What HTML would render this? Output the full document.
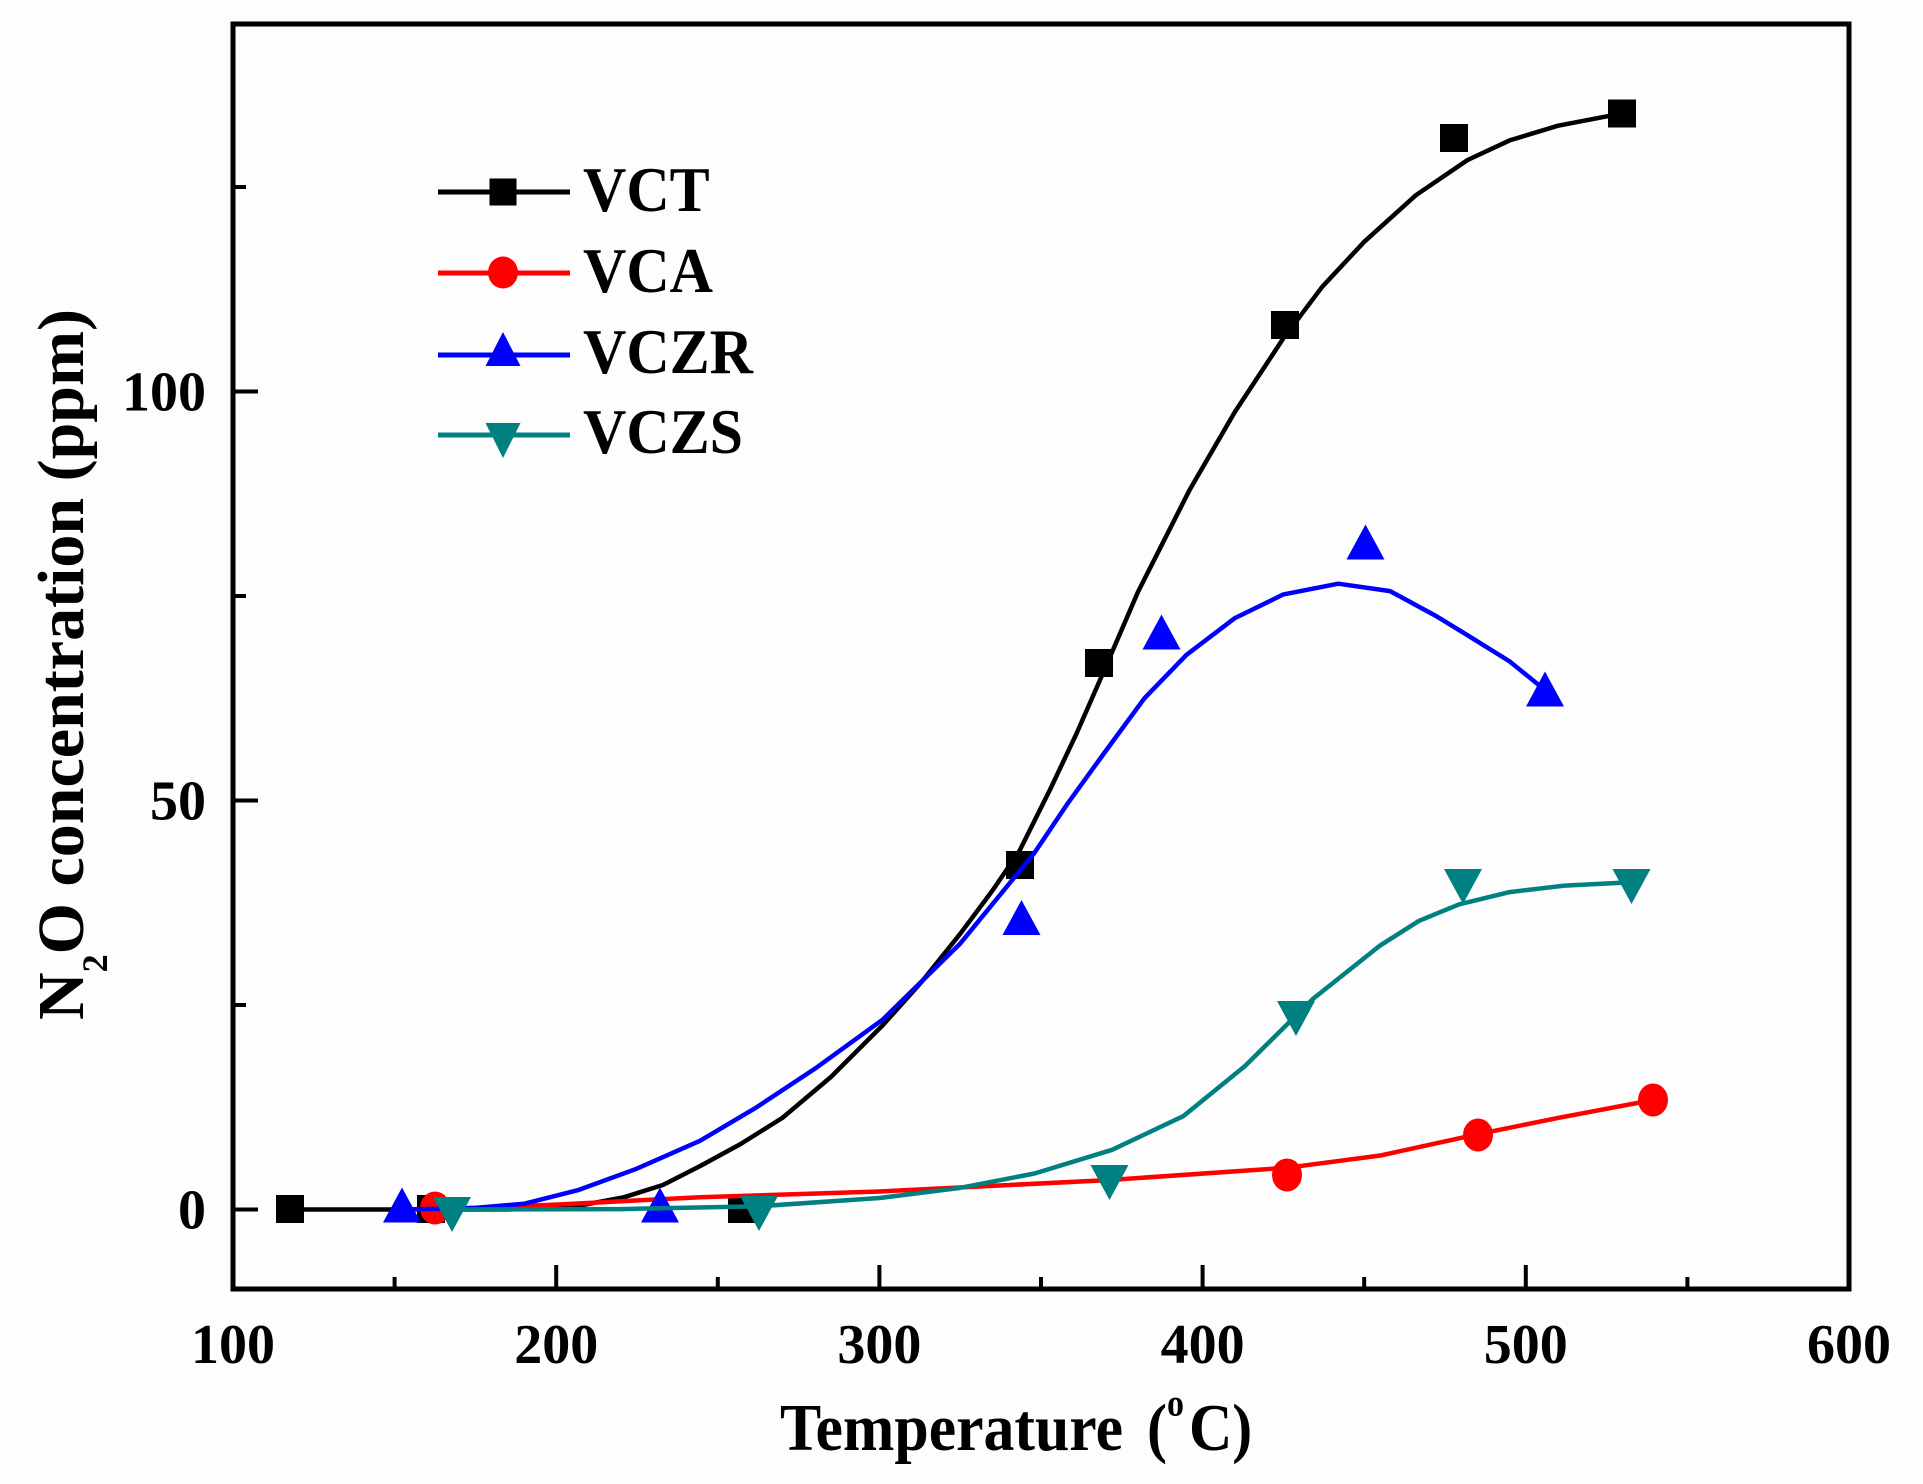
<!DOCTYPE html>
<html>
<head>
<meta charset="utf-8">
<style>
  html,body{margin:0;padding:0;background:#fdfdfd;}
  svg{display:block;}
  text{font-family:"Liberation Serif","Times New Roman",serif;font-weight:bold;fill:#000;}
</style>
</head>
<body>
<svg width="1923" height="1484" viewBox="0 0 1923 1484" xmlns="http://www.w3.org/2000/svg">
  <rect x="0" y="0" width="1923" height="1484" fill="#fdfdfd"/>

  <!-- axes box -->
  <rect x="233" y="24" width="1616" height="1265" fill="none" stroke="#000" stroke-width="5"/>

  <!-- x ticks -->
  <g stroke="#000" stroke-width="4">
    <line x1="556.2" y1="1289" x2="556.2" y2="1265"/>
    <line x1="879.4" y1="1289" x2="879.4" y2="1265"/>
    <line x1="1202.6" y1="1289" x2="1202.6" y2="1265"/>
    <line x1="1525.8" y1="1289" x2="1525.8" y2="1265"/>
    <line x1="394.6" y1="1289" x2="394.6" y2="1277"/>
    <line x1="717.8" y1="1289" x2="717.8" y2="1277"/>
    <line x1="1041" y1="1289" x2="1041" y2="1277"/>
    <line x1="1364.2" y1="1289" x2="1364.2" y2="1277"/>
    <line x1="1687.4" y1="1289" x2="1687.4" y2="1277"/>
    <!-- y ticks -->
    <line x1="233" y1="1209.5" x2="258" y2="1209.5"/>
    <line x1="233" y1="800.5" x2="258" y2="800.5"/>
    <line x1="233" y1="391.5" x2="258" y2="391.5"/>
    <line x1="233" y1="1005" x2="246" y2="1005"/>
    <line x1="233" y1="596" x2="246" y2="596"/>
    <line x1="233" y1="187" x2="246" y2="187"/>
  </g>

  <!-- tick labels -->
  <g font-size="56">
    <text x="233" y="1363" text-anchor="middle">100</text>
    <text x="556.2" y="1363" text-anchor="middle">200</text>
    <text x="879.4" y="1363" text-anchor="middle">300</text>
    <text x="1202.6" y="1363" text-anchor="middle">400</text>
    <text x="1525.8" y="1363" text-anchor="middle">500</text>
    <text x="1849" y="1363" text-anchor="middle">600</text>
    <text x="206" y="1228.5" text-anchor="end">0</text>
    <text x="206" y="819.5" text-anchor="end">50</text>
    <text x="206" y="410.5" text-anchor="end">100</text>
  </g>

  <!-- x title -->
  <g transform="translate(0,1450) scale(1,1.12)">
    <text x="780" y="0" font-size="60" textLength="343" lengthAdjust="spacingAndGlyphs">Temperature</text>
    <text x="1147" y="0" font-size="60">(</text>
    <text x="1167" y="-31" font-size="34">o</text>
    <text x="1189" y="0" font-size="60">C)</text>
  </g>

  <!-- y title -->
  <g transform="translate(83,1020) rotate(-90)">
    <text x="0" y="0" font-size="66">N<tspan font-size="36" dy="24">2</tspan><tspan dy="-24">O concentration (ppm)</tspan></text>
  </g>

  <!-- VCT black -->
  <polyline fill="none" stroke="#000" stroke-width="4.5" stroke-linejoin="round" stroke-linecap="round"
    points="289.9,1209.5 426.9,1209.5 507.7,1209.5 572.4,1207.0 624.1,1197.2 662.9,1185.0 700,1166.1 740.4,1144.1 782.4,1117.9 830.9,1077.0 882.6,1025.4 921.4,982.1 960.2,933.8 992.5,890.5 1019.3,851.2 1050.7,788.2 1076.6,733.4 1099.2,681.9 1138,591.9 1189.7,489.7 1234.9,411.9 1283.4,338.3 1322.2,286.8 1364.2,241.8 1415.9,195.2 1467.6,160.0 1509.6,140.4 1558.1,125.7 1622.1,113.4"/>
  <g fill="#000">
    <rect x="276" y="1195" width="28" height="28"/>
    <rect x="417" y="1195" width="28" height="28"/>
    <rect x="728" y="1195" width="28" height="28"/>
    <rect x="1006" y="851" width="28" height="28"/>
    <rect x="1085" y="649" width="28" height="28"/>
    <rect x="1271" y="311" width="28" height="28"/>
    <rect x="1440" y="124" width="28" height="28"/>
    <rect x="1608" y="99.5" width="28" height="28"/>
  </g>

  <!-- VCA red -->
  <polyline fill="none" stroke="#ff0000" stroke-width="4.5" stroke-linejoin="round" stroke-linecap="round"
    points="435,1209.5 556.2,1204.6 700,1197.2 879.4,1191.5 1107.9,1180.1 1286.6,1167.8 1380.4,1155.5 1478,1134.2 1558.1,1117.9 1653,1100"/>
  <g fill="#ff0000">
    <ellipse cx="435" cy="1208" rx="15" ry="16.5"/>
    <ellipse cx="1287" cy="1175" rx="15" ry="16.5"/>
    <ellipse cx="1478" cy="1135" rx="15" ry="16.5"/>
    <ellipse cx="1653" cy="1100" rx="15" ry="16.5"/>
  </g>

  <!-- VCZR blue -->
  <polyline fill="none" stroke="#0000ff" stroke-width="4.5" stroke-linejoin="round" stroke-linecap="round"
    points="402.4,1209.5 475.4,1207.9 523.9,1203.8 578.8,1189.9 637,1168.6 700,1140.8 756.6,1107.3 814.8,1068.8 882.6,1019.7 960.2,943.6 1034.5,852.8 1066.9,804.6 1102.4,755.5 1144.4,698.3 1186.4,654.9 1234.9,618.1 1283.4,594.4 1338.3,583.7 1390.1,591.1 1435.3,615.6 1467.6,635.3 1509.6,661.4 1547.1,691.7"/>
  <g fill="#0000ff">
    <polygon points="402,1187.5 421,1222.5 383,1222.5"/>
    <polygon points="660,1187.5 679,1222.5 641,1222.5"/>
    <polygon points="1021.5,900 1040.5,935 1002.5,935"/>
    <polygon points="1161.5,614.5 1180.5,649.5 1142.5,649.5"/>
    <polygon points="1365.5,524.5 1384.5,559.5 1346.5,559.5"/>
    <polygon points="1545,671.5 1564,706.5 1526,706.5"/>
  </g>

  <!-- VCZS teal -->
  <polyline fill="none" stroke="#008080" stroke-width="4.5" stroke-linejoin="round" stroke-linecap="round"
    points="451.5,1209.5 620.8,1209.1 760,1206.2 879.4,1198.0 958.3,1188.2 1034.5,1173.5 1112.1,1149.8 1183.2,1116.2 1244.6,1066.4 1312.5,999.3 1380.4,945.3 1419.1,920.8 1458.9,904.4 1509.6,892.1 1564.6,885.6 1631.2,882.3"/>
  <g fill="#008080">
    <polygon points="433,1197 471,1197 452,1232"/>
    <polygon points="740,1196 778,1196 759,1231"/>
    <polygon points="1090.5,1165 1128.5,1165 1109.5,1200"/>
    <polygon points="1277,1001 1315,1001 1296,1036"/>
    <polygon points="1444,869 1482,869 1463,904"/>
    <polygon points="1612.5,869 1650.5,869 1631.5,904"/>
  </g>

  <!-- legend -->
  <g stroke-width="5" stroke-linecap="butt">
    <line x1="438" y1="192" x2="570" y2="192" stroke="#000"/>
    <line x1="438" y1="273" x2="570" y2="273" stroke="#ff0000"/>
    <line x1="438" y1="355" x2="570" y2="355" stroke="#0000ff"/>
    <line x1="438" y1="435" x2="570" y2="435" stroke="#008080"/>
  </g>
  <rect x="489.5" y="178.5" width="27" height="27" fill="#000"/>
  <ellipse cx="503" cy="272.5" rx="15" ry="16" fill="#ff0000"/>
  <polygon points="503,332 520.5,366 485.5,366" fill="#0000ff"/>
  <polygon points="485.5,423 520.5,423 503,458" fill="#008080"/>

  <g font-size="60">
    <g transform="translate(583,211) scale(1,1.06)"><text x="0" y="0">VCT</text></g>
    <g transform="translate(583,292) scale(1,1.06)"><text x="0" y="0">VCA</text></g>
    <g transform="translate(583,373) scale(1,1.06)"><text x="0" y="0">VCZR</text></g>
    <g transform="translate(583,453) scale(1,1.06)"><text x="0" y="0">VCZS</text></g>
  </g>
</svg>
</body>
</html>
